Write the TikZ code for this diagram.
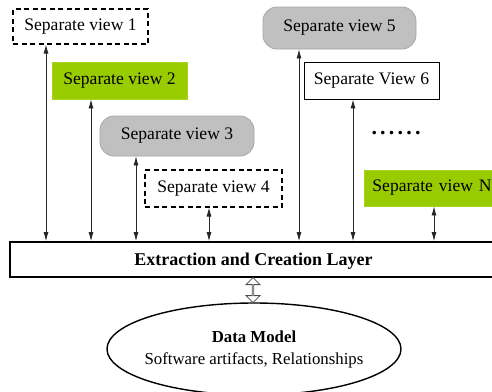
\documentclass[tikz,border=0pt]{standalone}
\usepackage{fontspec}
\setmainfont{Liberation Serif}
\usetikzlibrary{arrows.meta,shapes.geometric,shapes.arrows}

\definecolor{viewgreen}{HTML}{99CC00}
\definecolor{viewgreenedge}{HTML}{A8D420}
\definecolor{viewgray}{HTML}{C0C0C0}
\definecolor{viewgrayedge}{HTML}{A6A6A6}

\tikzset{
  lbl/.style={font=\fontsize{17.6}{20}\selectfont, inner sep=0pt},
  viewdashed/.style={lbl, draw=black, line width=1.1pt, dash pattern=on 5pt off 3.5pt, fill=white},
  viewplain/.style={lbl, draw=black, line width=0.9pt, fill=white},
  viewfilled/.style={lbl, fill=viewgreen, draw=viewgreenedge, line width=0.8pt},
  viewround/.style={lbl, fill=viewgray, draw=viewgrayedge, line width=0.8pt, rounded corners=14pt},
  link/.style={line width=0.8pt, draw=black!85, {Latex[length=9pt,width=5pt]}-{Latex[length=9pt,width=5pt]}},
}

\begin{document}
\begin{tikzpicture}[x=1pt,y=-1pt]
  \useasboundingbox (0,0) rectangle (492,391);

  % the separate views
  \node[viewdashed, minimum width=135, minimum height=35] (v1) at (80.5,26.5) {Separate view 1};
  \node[viewfilled, minimum width=135, minimum height=37] (v2) at (119.5,80.5) {Separate view 2};
  \node[viewround, minimum width=154, minimum height=40] (v3) at (177,136) {Separate view 3};
  \node[viewdashed, minimum width=137, minimum height=37] (v4) at (213.5,188.5) {Separate view 4};
  \node[viewround, minimum width=153, minimum height=42] (v5) at (339.5,28) {Separate view 5};
  \node[viewplain, minimum width=135, minimum height=37] (v6) at (371.5,80.5) {Separate View 6};
  \node[viewfilled, anchor=west, minimum height=36, text width=120pt, align=left, inner xsep=8pt] (vN) at (364,188) {Separate view N};
  \node[lbl, font=\fontsize{22}{24}\selectfont\bfseries] (dots) at (396,133)
    {.\hspace{3.2pt}.\hspace{3.2pt}.\hspace{3.2pt}.\hspace{3.2pt}.\hspace{3.2pt}.};

  % extraction layer and data model
  \node[lbl, draw=black, line width=1.8pt, fill=white, minimum width=487, minimum height=35,
        text depth=0pt, font=\fontsize{18}{20}\selectfont\bfseries] (layer) at (253.5,259.5) {Extraction and Creation Layer};
  \node[ellipse, draw=black, line width=1.4pt, minimum width=294, minimum height=92,
        inner xsep=-8pt, inner ysep=0pt, align=center, font=\fontsize{16.8}{21}\selectfont] (dm) at (254,349)
        {\textbf{Data Model}\\[1pt]Software artifacts, Relationships};

  % connector positions along the layer
  \coordinate (c1) at (46,0);
  \coordinate (c2) at (91,0);
  \coordinate (c3) at (136,0);
  \coordinate (c4) at (209,0);
  \coordinate (c5) at (299,0);
  \coordinate (c6) at (353,0);
  \coordinate (cN) at (434,0);

  \draw[link] (v1.south -| c1) -- (layer.north -| c1);
  \draw[link] (v2.south -| c2) -- (layer.north -| c2);
  \draw[link] (v3.south -| c3) -- (layer.north -| c3);
  \draw[link] (v4.south -| c4) -- (layer.north -| c4);
  \draw[link] (v5.south -| c5) -- (layer.north -| c5);
  \draw[link] (v6.south -| c6) -- (layer.north -| c6);
  \draw[link] (vN.south -| cN) -- (layer.north -| cN);

  % hollow two-way arrow between layer and data model
  \coordinate (da) at (253,0);
  \path (layer.south -| da) -- (dm.north -| da)
    node[midway, double arrow, rotate=90, draw=black!70, fill=white, line width=0.8pt,
         minimum height=25pt, minimum width=14pt, inner sep=0pt,
         double arrow head extend=3.5pt] (dbl) {};
\end{tikzpicture}
\end{document}
